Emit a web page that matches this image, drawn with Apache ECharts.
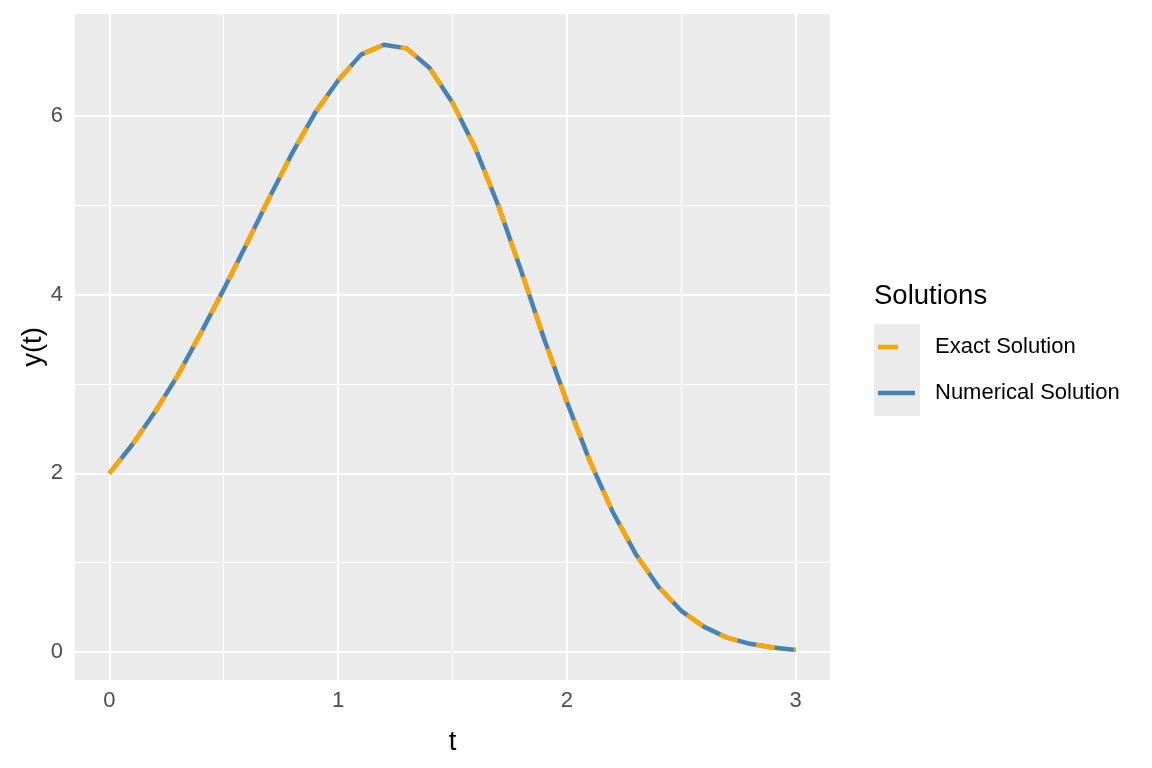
<!DOCTYPE html>
<html>
<head>
<meta charset="utf-8">
<script src="https://cdn.jsdelivr.net/npm/echarts@6/dist/echarts.min.js"></script>
<style>
  html, body { margin: 0; padding: 0; background: #fff; }
  #chart { width: 1152px; height: 768px; }
</style>
</head>
<body>
<div id="chart"></div>
<script>
// data
var tValues = [0.0, 0.1, 0.2, 0.3, 0.4, 0.5, 0.6, 0.7, 0.8, 0.9, 1.0,
               1.1, 1.2, 1.3, 1.4, 1.5, 1.6, 1.7, 1.8, 1.9, 2.0,
               2.1, 2.2, 2.3, 2.4, 2.5, 2.6, 2.7, 2.8, 2.9, 3.0];
var exactValues = [2.00, 2.32, 2.69, 3.10, 3.57, 4.06, 4.57, 5.09, 5.59, 6.04, 6.40,
                   6.69, 6.80, 6.76, 6.54, 6.15, 5.64, 5.00, 4.27, 3.51, 2.80,
                   2.14, 1.57, 1.10, 0.73, 0.46, 0.28, 0.16, 0.09, 0.05, 0.02];
var numericalValues = [2.00, 2.32, 2.69, 3.10, 3.57, 4.06, 4.57, 5.09, 5.59, 6.04, 6.40,
                       6.69, 6.80, 6.76, 6.54, 6.15, 5.64, 5.00, 4.27, 3.51, 2.80,
                       2.14, 1.57, 1.10, 0.73, 0.46, 0.28, 0.16, 0.09, 0.05, 0.02];
var xTicks = [0, 1, 2, 3];
var xMinor = [0.5, 1.5, 2.5];
var yTicks = [0, 2, 4, 6];
var yMinor = [1, 3, 5];

var FONT = 'Liberation Sans, Arial, sans-serif';

function pairs(xs, ys) {
    return xs.map(function (x, i) { return [x, ys[i]]; });
}

// panel grid lines drawn through the axes' scales
var gridLines = [];
xMinor.forEach(function (v) { gridLines.push({ xAxis: v, lineStyle: { width: 1 } }); });
yMinor.forEach(function (v) { gridLines.push({ yAxis: v, lineStyle: { width: 1 } }); });
xTicks.forEach(function (v) { gridLines.push({ xAxis: v, lineStyle: { width: 2 } }); });
yTicks.forEach(function (v) { gridLines.push({ yAxis: v, lineStyle: { width: 2 } }); });

var chart = echarts.init(document.getElementById('chart'));
chart.setOption({
    animation: false,
    backgroundColor: '#ffffff',
    textStyle: { fontFamily: FONT },
    title: {
        text: 'Solutions',
        left: 874,
        top: 282,
        padding: 0,
        textStyle: { fontFamily: FONT, fontSize: 27.5, fontWeight: 'normal', color: '#000000' }
    },
    graphic: [{
        type: 'rect',
        shape: { x: 874, y: 324, width: 46, height: 92 },
        style: { fill: '#EBEBEB' },
        silent: true
    }],
    legend: {
        orient: 'vertical',
        left: 878,
        top: 336,
        padding: 0,
        itemWidth: 37,
        itemHeight: 4.5,
        itemGap: 24,
        symbolKeepAspect: false,
        data: [
            // the dashed key only shows its first dash; the stray zero-area line keeps the box width
            { name: 'Exact Solution', icon: 'path://M0,0H20V4.5H0Z M37,0L37,4.5', itemStyle: { color: '#FFA500' } },
            { name: 'Numerical Solution', icon: 'rect', itemStyle: { color: '#4682B4' } }
        ],
        textStyle: { fontFamily: FONT, fontSize: 22, color: '#000000', padding: [0, 0, 0, 15] }
    },
    grid: {
        left: 75, top: 14, width: 755, height: 666,
        outerBoundsMode: 'none',
        show: true, backgroundColor: '#EBEBEB', borderWidth: 0
    },
    xAxis: {
        type: 'value',
        min: -0.15, max: 3.15,
        name: 't',
        nameLocation: 'middle',
        nameGap: 48,
        nameMoveOverlap: false,
        nameTextStyle: { fontFamily: FONT, fontSize: 27.5, color: '#000000' },
        axisLine: { show: false },
        axisTick: { show: true, length: 7, customValues: xTicks, lineStyle: { color: '#333333', width: 1.5 } },
        axisLabel: { customValues: xTicks, margin: 10, fontFamily: FONT, fontSize: 22, color: '#4D4D4D' },
        splitLine: { show: false }
    },
    yAxis: {
        type: 'value',
        min: -0.315, max: 7.145,
        name: 'y(t)',
        nameLocation: 'middle',
        nameGap: 28,
        nameMoveOverlap: false,
        nameRotate: 90,
        nameTextStyle: { fontFamily: FONT, fontSize: 27.5, color: '#000000' },
        axisLine: { show: false },
        axisTick: { show: true, length: 7, customValues: yTicks, lineStyle: { color: '#333333', width: 1.5 } },
        axisLabel: { customValues: yTicks, margin: 12, fontFamily: FONT, fontSize: 22, color: '#4D4D4D' },
        splitLine: { show: false }
    },
    series: [
        {
            name: 'Numerical Solution',
            type: 'line',
            data: pairs(tValues, numericalValues),
            showSymbol: false,
            symbol: 'none',
            z: 2,
            lineStyle: { color: '#4682B4', width: 4.5 },
            itemStyle: { color: '#4682B4' },
            markLine: {
                silent: true,
                z: 1,
                symbol: ['none', 'none'],
                label: { show: false },
                emphasis: { disabled: true },
                lineStyle: { color: '#ffffff', type: 'solid' },
                data: gridLines
            }
        },
        {
            name: 'Exact Solution',
            type: 'line',
            data: pairs(tValues, exactValues),
            showSymbol: false,
            symbol: 'none',
            z: 3,
            lineStyle: { color: '#FFA500', width: 4.5, type: [19, 19] },
            itemStyle: { color: '#FFA500' }
        }
    ]
});
</script>
</body>
</html>
